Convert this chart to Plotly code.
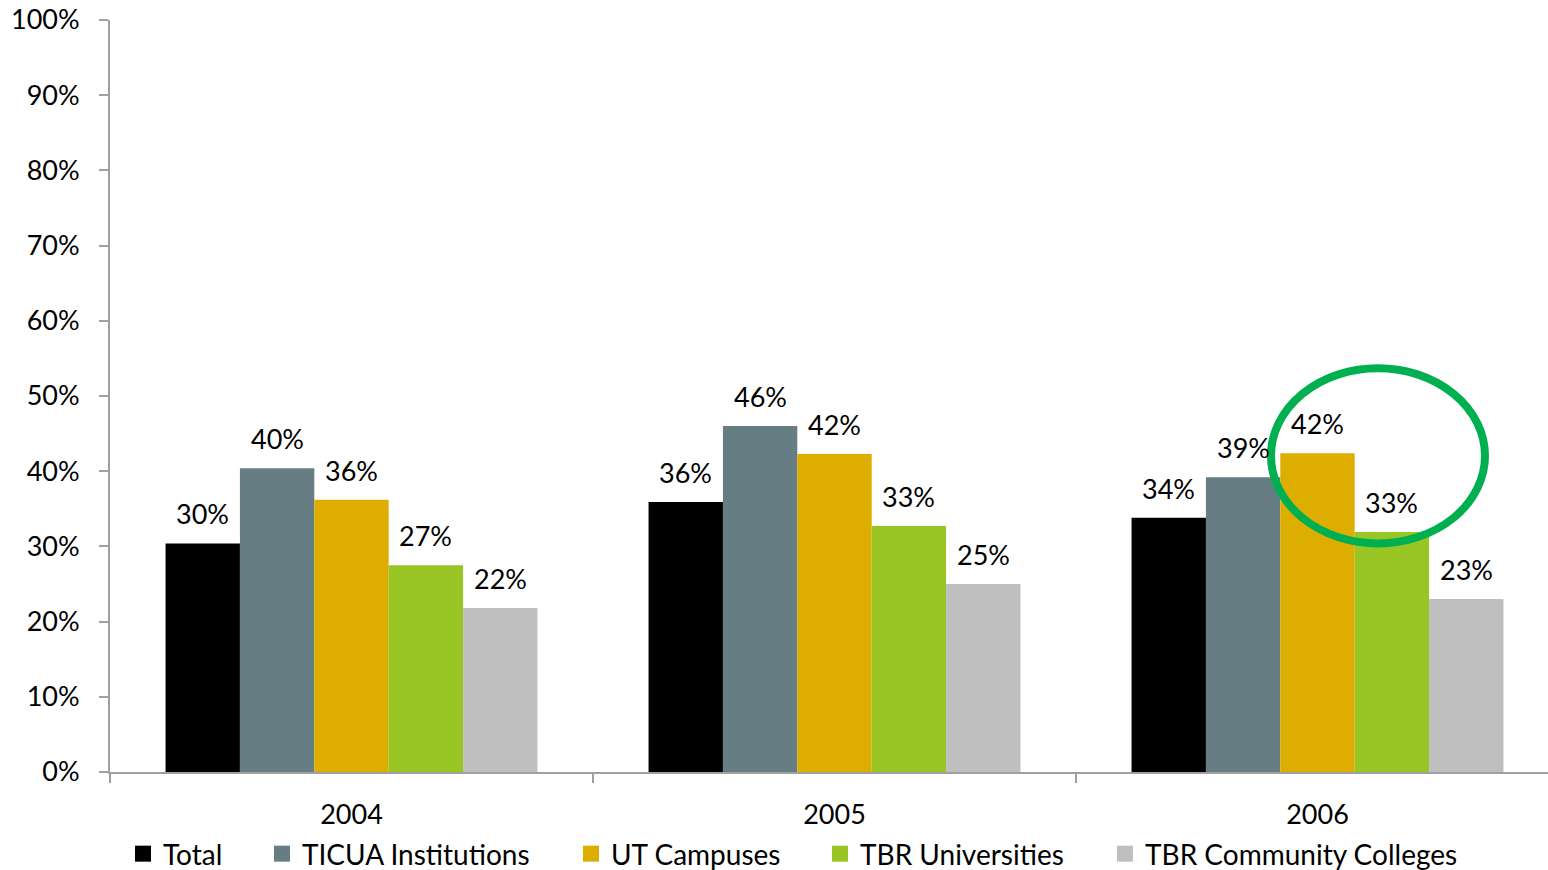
import plotly.graph_objects as go

years = ["2004", "2005", "2006"]
series_names = ["Total", "TICUA Institutions", "UT Campuses", "TBR Universities", "TBR Community Colleges"]
total = [30.4, 35.9, 33.8]
ticua = [40.4, 46.0, 39.2]
ut = [36.2, 42.3, 42.4]
tbr_univ = [27.5, 32.7, 31.9]
tbr_cc = [21.8, 25.0, 23.0]
total_lbl = ["30%", "36%", "34%"]
ticua_lbl = ["40%", "46%", "39%"]
ut_lbl = ["36%", "42%", "42%"]
tbr_univ_lbl = ["27%", "33%", "33%"]
tbr_cc_lbl = ["22%", "25%", "23%"]
y_ticks = [0, 10, 20, 30, 40, 50, 60, 70, 80, 90, 100]
y_tick_text = ["0%", "10%", "20%", "30%", "40%", "50%", "60%", "70%", "80%", "90%", "100%"]

values = [total, ticua, ut, tbr_univ, tbr_cc]
labels = [total_lbl, ticua_lbl, ut_lbl, tbr_univ_lbl, tbr_cc_lbl]
colors = ["#000000", "#657D83", "#DDAE00", "#99C624", "#BFBFBF"]

FONT = "Lato"
W, H = 1559, 870   # plot area runs slightly past the right edge of the 1548px window, as in the original
ML, MR, MT, MB = 110, 0, 20, 98
BARGAP = 0.23
plot_w = W - ML - MR
bar_px = plot_w / len(years) * (1 - BARGAP) / len(series_names)

# legend entry symbol centres (pixels) for the separate legends
legend_centers_px = [143, 282, 591, 840, 1125]

fig = go.Figure()
for i, (name, v, lb, c) in enumerate(zip(series_names, values, labels, colors)):
    fig.add_trace(go.Bar(
        x=years, y=v, name=name, marker=dict(color=c, line=dict(width=0)),
        showlegend=False,
    ))
for i, (name, v, lb, c) in enumerate(zip(series_names, values, labels, colors)):
    lg = "legend" if i == 0 else f"legend{i+1}"
    # legend-only swatch on a hidden helper axis (point lies outside its range)
    fig.add_trace(go.Scatter(
        x=[0], y=[0], mode="markers", name=name, xaxis="x2", yaxis="y2",
        marker=dict(symbol="square", size=18, color=c),
        showlegend=True, legend=lg, hoverinfo="skip",
    ))
    for j, (val, t) in enumerate(zip(v, lb)):
        fig.add_annotation(
            x=j, y=val, xref="x", yref="y", text=t, showarrow=False,
            xshift=(i - 2) * bar_px, yanchor="bottom", yshift=11,
            font=dict(family=FONT, size=27, color="#000000"),
        )

fig.add_shape(type="circle", xref="paper", yref="y",
              x0=(1271 - ML) / plot_w, x1=(1485 - ML) / plot_w, y0=30.4, y1=53.7,
              line=dict(color="#00B050", width=8), fillcolor="rgba(0,0,0,0)")

legend_common = dict(orientation="h", xanchor="left", y=-0.109, yanchor="middle",
                     font=dict(family=FONT, size=28, color="#000000"),
                     bgcolor="rgba(0,0,0,0)", borderwidth=0)
legends = {}
for i, cx in enumerate(legend_centers_px):
    key = "legend" if i == 0 else f"legend{i+1}"
    legends[key] = dict(legend_common, x=(cx - 20 - ML) / plot_w)

fig.update_layout(
    width=W, height=H,
    margin=dict(l=ML, r=MR, t=MT, b=MB, autoexpand=False),
    paper_bgcolor="white", plot_bgcolor="white",
    barmode="group", bargap=BARGAP, bargroupgap=0,
    font=dict(family=FONT, size=27, color="#000000"),
    showlegend=True,
    xaxis=dict(type="category", categoryorder="array", categoryarray=years,
               range=[-0.5, len(years) - 0.5],
               showline=True, linecolor="#A0A0A0", linewidth=2,
               ticks="outside", tickson="boundaries", ticklen=9, tickcolor="#A0A0A0",
               tickwidth=2, showgrid=False, ticklabelstandoff=18,
               tickfont=dict(family=FONT, size=27)),
    yaxis=dict(range=[0, 100], tickvals=y_ticks, ticktext=y_tick_text,
               showline=True, linecolor="#A0A0A0", linewidth=2,
               ticks="outside", ticklen=9, tickcolor="#A0A0A0", tickwidth=2,
               showgrid=False, zeroline=False, ticklabelstandoff=14,
               tickfont=dict(family=FONT, size=27)),
    xaxis2=dict(overlaying="x", range=[10, 11], visible=False, fixedrange=True),
    yaxis2=dict(overlaying="y", range=[10, 11], visible=False, fixedrange=True),
    **legends,
)

fig.write_html("out.html", config={"displayModeBar": False},
               post_script="document.body.style.margin='0';document.body.style.overflow='hidden';")
